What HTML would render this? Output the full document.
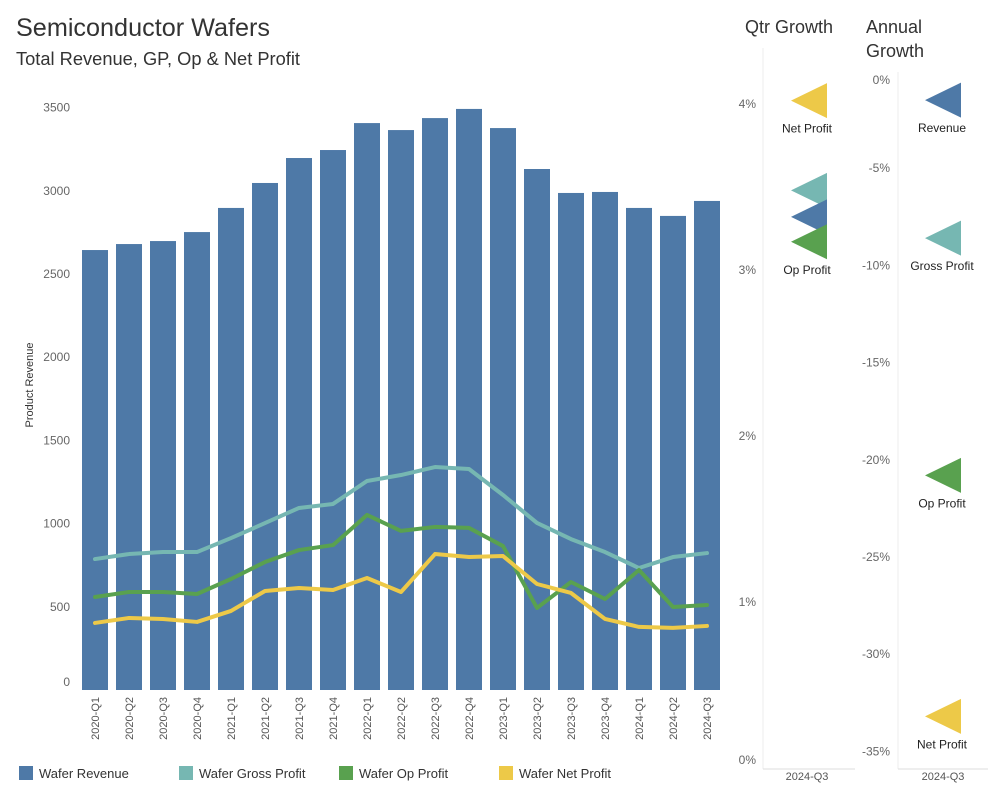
<!DOCTYPE html>
<html><head><meta charset="utf-8"><style>
html,body{margin:0;padding:0;background:#fff;}
svg{display:block;font-family:"Liberation Sans",sans-serif;}
</style></head><body>
<svg id="chart" width="1000" height="800" viewBox="0 0 1000 800">
  <text x="16" y="36" font-size="25" fill="#333" textLength="254" lengthAdjust="spacingAndGlyphs">Semiconductor Wafers</text>
  <text x="16" y="65" font-size="18" fill="#333" textLength="284" lengthAdjust="spacingAndGlyphs">Total Revenue, GP, Op &amp; Net Profit</text>
  <text x="789" y="33" font-size="18" fill="#333" text-anchor="middle">Qtr Growth</text>
  <text x="866" y="33" font-size="18" fill="#333">Annual</text>
  <text x="866" y="57" font-size="18" fill="#333">Growth</text>
  <text transform="translate(33,385) rotate(-90)" font-size="11" fill="#333" text-anchor="middle">Product Revenue</text>
  <g id="main"></g>
  <g id="qtr"></g>
  <g id="ann"></g>
  <g id="legend"></g>
</svg>
<script>
const categories = ["2020-Q1","2020-Q2","2020-Q3","2020-Q4","2021-Q1","2021-Q2","2021-Q3","2021-Q4","2022-Q1","2022-Q2","2022-Q3","2022-Q4","2023-Q1","2023-Q2","2023-Q3","2023-Q4","2024-Q1","2024-Q2","2024-Q3"];
const revenue = [2644,2680,2698,2752,2897,3047,3197,3245,3407,3365,3437,3492,3377,3131,2987,2993,2897,2849,2939];
const grossProfit = [787,817,829,829,913,1003,1094,1118,1256,1292,1340,1328,1172,1004,907,829,733,799,823];
const opProfit = [559,589,589,577,667,769,841,871,1052,956,980,974,865,493,649,547,721,499,511];
const netProfit = [403,433,427,409,475,595,613,601,673,589,817,799,805,637,583,427,379,373,385];
const yTicks = [0,500,1000,1500,2000,2500,3000,3500];
const qtrLabels = ["Net Profit","Gross Profit","Revenue","Op Profit"];
const qtrValues = [4.02,3.48,3.32,3.17];
const qtrTicks = [0,1,2,3,4];
const annLabels = ["Revenue","Gross Profit","Op Profit","Net Profit"];
const annValues = [-1.5,-8.6,-20.8,-33.2];
const annTicks = [0,-5,-10,-15,-20,-25,-30,-35];

const NS="http://www.w3.org/2000/svg";
const C={rev:"#4e79a7",gp:"#76b7b2",op:"#59a14f",net:"#edc948"};
function mk(tag,attrs,parent,txt){const e=document.createElementNS(NS,tag);for(const k in attrs)e.setAttribute(k,attrs[k]);if(txt!==undefined)e.textContent=txt;parent.appendChild(e);return e;}
const xC=i=>95+34*i;
const yV=v=>690-v*0.1664;
const main=document.getElementById('main');
yTicks.forEach((t,i)=>{
  const ty=Math.min(yV(t),682);
  const el=mk('text',{x:70,y:ty+4,'font-size':12,fill:'#666','text-anchor':'end'},main,String(t));
  
  
});
revenue.forEach((v,i)=>{
  const r=mk('rect',{x:xC(i)-13,y:yV(v),width:26,height:yV(0)-yV(v),fill:C.rev},main);
  
  
});
categories.forEach((c,i)=>{
  const t=mk('text',{transform:`translate(${xC(i)+4},697) rotate(-90)`,'font-size':11,fill:'#555','text-anchor':'end'},main,c);
  
  
});
function line(vals,col,name){
  const p=mk('polyline',{points:vals.map((v,i)=>xC(i)+','+yV(v)).join(' '),fill:'none',stroke:col,'stroke-width':4,'stroke-linejoin':'round','stroke-linecap':'round'},main);
  
  
}
line(grossProfit,C.gp,'gross-profit-line');
line(opProfit,C.op,'op-profit-line');
line(netProfit,C.net,'net-profit-line');

// Qtr panel
const qtr=document.getElementById('qtr');
const qY=v=>768-v*166;
mk('line',{x1:763,y1:48,x2:763,y2:769,stroke:'#eee'},qtr);
mk('line',{x1:763,y1:769,x2:855,y2:769,stroke:'#ddd'},qtr);
qtrTicks.forEach(t=>{
  const el=mk('text',{x:756,y:Math.min(qY(t),760)+4,'font-size':12,fill:'#666','text-anchor':'end'},qtr,t+'%');
  
  
});
const qCols=[C.net,C.gp,C.rev,C.op];
const qLabelShow=[true,false,false,true];
qtrValues.forEach((v,i)=>{
  const y=qY(v);
  const p=mk('polygon',{points:`827,${y-17.5} 827,${y+17.5} 791,${y}`,fill:qCols[i]},qtr);
  
  
  if(qLabelShow[i]){
    const l=mk('text',{x:807,y:y+32,'font-size':12,fill:'#222','text-anchor':'middle'},qtr,qtrLabels[i]);
    
    
  }
});
const qx=mk('text',{x:807,y:780,'font-size':11,fill:'#555','text-anchor':'middle'},qtr,'2024-Q3');



// Annual panel
const ann=document.getElementById('ann');
const aY=v=>71-v*19.44;
mk('line',{x1:898,y1:72,x2:898,y2:769,stroke:'#eee'},ann);
mk('line',{x1:898,y1:769,x2:988,y2:769,stroke:'#ddd'},ann);
annTicks.forEach(t=>{
  const el=mk('text',{x:890,y:Math.max(aY(t),80)+4,'font-size':12,fill:'#666','text-anchor':'end'},ann,t+'%');
  
  
});
const aCols=[C.rev,C.gp,C.op,C.net];
annValues.forEach((v,i)=>{
  const y=aY(v);
  const p=mk('polygon',{points:`961,${y-17.5} 961,${y+17.5} 925,${y}`,fill:aCols[i]},ann);
  
  
  const l=mk('text',{x:942,y:y+32,'font-size':12,fill:'#222','text-anchor':'middle'},ann,annLabels[i]);
  
  
});
const ax=mk('text',{x:943,y:780,'font-size':11,fill:'#555','text-anchor':'middle'},ann,'2024-Q3');



// Legend
const leg=document.getElementById('legend');
const legItems=[["Wafer Revenue",C.rev,19],["Wafer Gross Profit",C.gp,179],["Wafer Op Profit",C.op,339],["Wafer Net Profit",C.net,499]];
legItems.forEach(it=>{
  const g=mk('g',{},leg);
  
  
  mk('rect',{x:it[2],y:766,width:14,height:14,fill:it[1]},g);
  mk('text',{x:it[2]+20,y:778,'font-size':13,fill:'#333'},g,it[0]);
});
</script>
</body></html>
